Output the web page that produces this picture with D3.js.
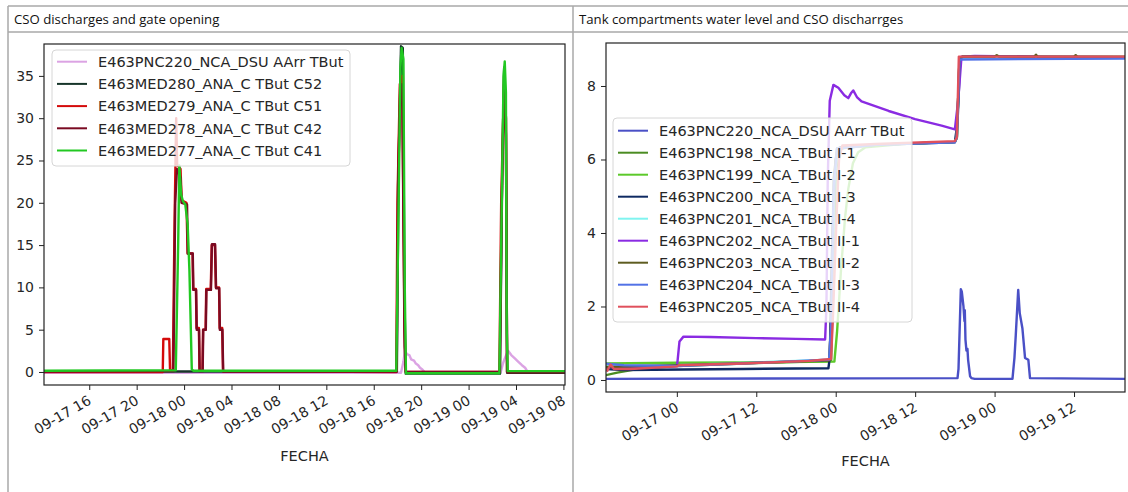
<!DOCTYPE html>
<html>
<head>
<meta charset="utf-8">
<script src="https://cdn.jsdelivr.net/npm/d3@7"></script>
<style>
  body { margin: 0; background: #fff; }
  svg { display: block; }
</style>
</head>
<body>
<svg id="fig" width="1128" height="492"></svg>
<script>
// ---- data (times are MM-DD HH:MM, year is arbitrary) ----
const YEAR = '2019-';

const panelTitles = [
  'CSO discharges and gate opening',
  'Tank compartments water level and CSO discharrges',
];

// left panel: CSO discharges and gate opening
const leftXDomain = ['09-17 12:11', '09-19 08:08'];
const leftYDomain = [-1.54, 38.77];
const leftYTicks = [0, 5, 10, 15, 20, 25, 30, 35];

const pnc220Left = [
  ['09-17 12:00', -0.1], ['09-18 18:18', -0.1], ['09-18 18:30', 1.2], ['09-18 18:38', 2.5],
  ['09-18 18:48', 2.1], ['09-18 19:00', 2.0], ['09-18 19:09', 1.5], ['09-18 19:24', 1.35],
  ['09-18 19:33', 1.0], ['09-18 19:45', 0.8], ['09-18 19:54', 0.5], ['09-18 20:06', 0.3],
  ['09-18 20:20', -0.1], ['09-19 02:42', -0.1], ['09-19 02:54', 1.0], ['09-19 03:03', 1.6],
  ['09-19 03:20', 2.5], ['09-19 03:36', 2.0], ['09-19 03:54', 1.6], ['09-19 04:12', 1.2],
  ['09-19 04:30', 0.8], ['09-19 04:46', 0.5], ['09-19 05:02', -0.1], ['09-19 08:30', -0.1],
];
const med280 = [
  ['09-17 12:00', 0.05], ['09-18 17:57', 0.05], ['09-18 18:06', 25], ['09-18 18:18', 38.5],
  ['09-18 18:27', 38.3], ['09-18 18:36', 8], ['09-18 18:42', -0.2], ['09-19 02:39', -0.2],
  ['09-19 02:51', 25], ['09-19 03:00', 36], ['09-19 03:09', 30], ['09-19 03:15', -0.1],
  ['09-19 08:30', -0.1],
];
const med279 = [
  ['09-17 12:00', 0], ['09-17 22:12', 0], ['09-17 22:15', 3.9], ['09-17 22:45', 3.9],
  ['09-17 22:49', 0.2], ['09-17 23:03', 0.2], ['09-17 23:12', 18], ['09-17 23:20', 30],
  ['09-17 23:25', 24.5], ['09-17 23:42', 24], ['09-17 23:48', 20.3], ['09-18 00:12', 20],
  ['09-18 00:18', 14], ['09-18 00:43', 14], ['09-18 00:46', 9.8], ['09-18 01:00', 9.8],
  ['09-18 01:03', 5.2], ['09-18 01:15', 5.2], ['09-18 01:18', 0.2], ['09-18 01:33', 0.2],
  ['09-18 01:36', 5], ['09-18 01:49', 5], ['09-18 01:52', 9.8], ['09-18 02:15', 9.8],
  ['09-18 02:20', 15], ['09-18 02:36', 15], ['09-18 02:41', 10], ['09-18 02:57', 10],
  ['09-18 03:00', 5.2], ['09-18 03:13', 5.2], ['09-18 03:17', 0.1], ['09-18 17:54', 0],
  ['09-18 18:00', 20], ['09-18 18:12', 34], ['09-18 18:24', 35], ['09-18 18:36', 5],
  ['09-18 18:42', 0], ['09-19 02:36', 0], ['09-19 02:45', 20], ['09-19 03:00', 35],
  ['09-19 03:09', 30], ['09-19 03:15', 0], ['09-19 08:30', 0],
];
const med278 = [
  ['09-17 12:00', 0.05], ['09-17 23:06', 0.1], ['09-17 23:15', 20], ['09-17 23:24', 24],
  ['09-17 23:42', 23], ['09-17 23:47', 20], ['09-18 00:15', 19.8], ['09-18 00:19', 14],
  ['09-18 00:44', 14], ['09-18 00:47', 9.7], ['09-18 01:01', 9.7], ['09-18 01:04', 5],
  ['09-18 01:16', 5], ['09-18 01:19', 0.1], ['09-18 01:34', 0.1], ['09-18 01:37', 5],
  ['09-18 01:50', 5], ['09-18 01:53', 9.7], ['09-18 02:16', 9.7], ['09-18 02:21', 15.1],
  ['09-18 02:37', 15.1], ['09-18 02:42', 9.9], ['09-18 02:58', 9.9], ['09-18 03:01', 5],
  ['09-18 03:14', 5], ['09-18 03:18', 0.05], ['09-18 17:56', 0.05], ['09-18 18:03', 22],
  ['09-18 18:15', 34], ['09-18 18:24', 34], ['09-18 18:36', 3], ['09-18 18:42', 0],
  ['09-19 02:38', 0], ['09-19 02:48', 20], ['09-19 03:00', 34], ['09-19 03:09', 28],
  ['09-19 03:15', 0], ['09-19 08:30', 0],
];
const med277 = [
  ['09-17 12:00', 0.15], ['09-17 23:18', 0.2], ['09-17 23:30', 15], ['09-17 23:36', 24.4],
  ['09-17 23:45', 21], ['09-17 23:54', 20.2], ['09-18 00:06', 19.8], ['09-18 00:18', 17.5],
  ['09-18 00:27', 12], ['09-18 00:39', 0.3], ['09-18 00:48', 0.15], ['09-18 17:54', 0.15],
  ['09-18 18:03', 15], ['09-18 18:15', 36], ['09-18 18:21', 38.3], ['09-18 18:30', 37],
  ['09-18 18:37', 10], ['09-18 18:43', -0.15], ['09-19 02:36', -0.15], ['09-19 02:45', 15],
  ['09-19 02:57', 35], ['09-19 03:03', 36.7], ['09-19 03:09', 33], ['09-19 03:13', 5],
  ['09-19 03:18', 0.1], ['09-19 08:30', 0.1],
];

const leftNames = [
  'E463PNC220_NCA_DSU AArr TBut', 'E463MED280_ANA_C TBut C52', 'E463MED279_ANA_C TBut C51',
  'E463MED278_ANA_C TBut C42', 'E463MED277_ANA_C TBut C41',
];
const leftColors = ['#dba3e3', '#17352a', '#d40a0a', '#7a0a22', '#22c822'];

// right panel: tank compartments water level
const rightXDomain = ['09-16 13:18', '09-19 19:42'];
const rightYDomain = [-0.327, 9.17];
const rightYTicks = [0, 2, 4, 6, 8];

const pnc220Right = [
  ['09-16 13:00', 0.03], ['09-18 18:24', 0.05], ['09-18 18:33', 0.3], ['09-18 18:54', 2.47],
  ['09-18 19:03', 2.4], ['09-18 19:18', 2.0], ['09-18 19:27', 1.6], ['09-18 19:30', 1.9],
  ['09-18 19:36', 1.1], ['09-18 19:45', 0.8], ['09-18 19:54', 0.85], ['09-18 20:00', 0.55],
  ['09-18 20:18', 0.1], ['09-18 20:30', 0.05], ['09-18 21:00', 0.03], ['09-19 02:42', 0.03],
  ['09-19 03:00', 0.6], ['09-19 03:12', 1.22], ['09-19 03:34', 2.45], ['09-19 03:48', 1.82],
  ['09-19 04:12', 1.41], ['09-19 04:36', 0.6], ['09-19 05:06', 0.55], ['09-19 05:21', 0.05],
  ['09-19 20:00', 0.03],
];
const pnc198 = [
  ['09-16 13:00', 0.12], ['09-16 15:00', 0.2], ['09-16 18:00', 0.3], ['09-17 00:00', 0.38],
  ['09-17 10:00', 0.45], ['09-17 20:00', 0.5], ['09-17 23:18', 0.52], ['09-17 23:36', 2.5],
  ['09-18 00:00', 5.6], ['09-18 00:30', 6.3], ['09-18 06:00', 6.4], ['09-18 18:00', 6.48],
  ['09-18 18:18', 6.6], ['09-18 18:42', 8.75], ['09-18 19:12', 8.8], ['09-19 20:00', 8.78],
];
const pnc199 = [
  ['09-16 13:00', 0.45], ['09-17 00:00', 0.47], ['09-17 10:00', 0.48], ['09-17 23:48', 0.5],
  ['09-18 00:12', 1.3], ['09-18 00:48', 3.0], ['09-18 01:24', 4.4], ['09-18 01:54', 5.2],
  ['09-18 02:36', 5.9], ['09-18 03:24', 6.2], ['09-18 04:30', 6.33], ['09-18 10:00', 6.42],
  ['09-18 18:00', 6.48], ['09-18 18:18', 6.6], ['09-18 18:42', 8.75], ['09-18 19:12', 8.8],
  ['09-19 20:00', 8.77],
];
const pnc200 = [
  ['09-16 13:00', 0.3], ['09-16 16:00', 0.27], ['09-17 10:00', 0.3], ['09-17 22:54', 0.32],
  ['09-17 23:06', 0.6], ['09-17 23:30', 4.0], ['09-18 00:00', 6.0], ['09-18 00:36', 6.33],
  ['09-18 06:00', 6.4], ['09-18 18:00', 6.47], ['09-18 18:24', 7.0], ['09-18 18:48', 8.75],
  ['09-19 20:00', 8.77],
];
const pnc201 = [
  ['09-16 13:00', 0.4], ['09-16 16:00', 0.35], ['09-17 00:00', 0.4], ['09-17 23:00', 0.55],
  ['09-17 23:18', 1.0], ['09-17 23:48', 5.5], ['09-18 00:18', 6.3], ['09-18 06:00', 6.4],
  ['09-18 18:00', 6.48], ['09-18 18:18', 6.6], ['09-18 18:42', 8.75], ['09-19 20:00', 8.78],
];
const pnc202 = [
  ['09-16 13:00', 0.35], ['09-16 19:00', 0.33], ['09-17 00:00', 0.38], ['09-17 00:06', 0.5],
  ['09-17 00:24', 1.05], ['09-17 01:00', 1.18], ['09-17 05:00', 1.17], ['09-17 12:00', 1.14],
  ['09-17 18:00', 1.12], ['09-17 22:24', 1.1], ['09-17 22:36', 2.0], ['09-17 22:48', 5.5],
  ['09-17 23:06', 7.6], ['09-17 23:39', 8.03], ['09-18 00:24', 7.95], ['09-18 01:18', 7.75],
  ['09-18 01:54', 7.67], ['09-18 02:18', 7.8], ['09-18 02:39', 7.88], ['09-18 03:12', 7.7],
  ['09-18 03:54', 7.58], ['09-18 08:00', 7.32], ['09-18 12:00', 7.1], ['09-18 16:00', 6.92],
  ['09-18 18:00', 6.82], ['09-18 18:30', 7.6], ['09-18 19:00', 8.8], ['09-18 21:00', 8.82],
  ['09-19 07:00', 8.8], ['09-19 20:00', 8.78],
];
const pnc203 = [
  ['09-16 13:00', 0.35], ['09-17 00:00', 0.4], ['09-17 23:00', 0.53], ['09-17 23:18', 1.5],
  ['09-17 23:42', 5.5], ['09-18 00:12', 6.3], ['09-18 06:00', 6.4], ['09-18 18:00', 6.48],
  ['09-18 18:18', 6.6], ['09-18 18:42', 8.75], ['09-18 19:12', 8.8], ['09-19 00:00', 8.8],
  ['09-19 00:20', 8.84], ['09-19 00:40', 8.8], ['09-19 06:00', 8.8], ['09-19 06:15', 8.85],
  ['09-19 06:30', 8.8], ['09-19 12:00', 8.8], ['09-19 12:15', 8.84], ['09-19 12:30', 8.8],
  ['09-19 20:00', 8.8],
];
const pnc204 = [
  ['09-16 13:00', 0.45], ['09-16 16:00', 0.4], ['09-17 00:00', 0.38], ['09-17 10:00', 0.45],
  ['09-17 23:00', 0.55], ['09-17 23:18', 1.5], ['09-17 23:42', 5.3], ['09-18 00:12', 6.3],
  ['09-18 06:00', 6.4], ['09-18 18:00', 6.47], ['09-18 18:18', 6.6], ['09-18 18:42', 8.72],
  ['09-19 20:00', 8.75],
];
const pnc205 = [
  ['09-16 13:00', 0.35], ['09-16 13:30', 0.25], ['09-16 14:00', 0.42], ['09-16 14:30', 0.3],
  ['09-16 17:00', 0.3], ['09-17 00:00', 0.37], ['09-17 00:18', 0.4], ['09-17 10:00', 0.45],
  ['09-17 20:00', 0.52], ['09-17 23:18', 0.57], ['09-17 23:36', 1.8], ['09-17 23:54', 3.3],
  ['09-18 00:06', 4.3], ['09-18 00:30', 6.0], ['09-18 01:00', 6.38], ['09-18 06:00', 6.42],
  ['09-18 18:00', 6.5], ['09-18 18:18', 6.6], ['09-18 18:36', 8.8], ['09-19 20:00', 8.8],
];

const rightNames = [
  'E463PNC220_NCA_DSU AArr TBut', 'E463PNC198_NCA_TBut I-1', 'E463PNC199_NCA_TBut I-2',
  'E463PNC200_NCA_TBut I-3', 'E463PNC201_NCA_TBut I-4', 'E463PNC202_NCA_TBut II-1',
  'E463PNC203_NCA_TBut II-2', 'E463PNC204_NCA_TBut II-3', 'E463PNC205_NCA_TBut II-4',
];
const rightColors = [
  '#4a50c6', '#4b8c22', '#5cc92a', '#0f2a62', '#80f4f0', '#8a2be2', '#5e5c20', '#5272e6', '#e0505c',
];

const xLabel = 'FECHA';

// ---- drawing ----
const parseTime = d3.utcParse('%Y-%m-%d %H:%M');
const toDate = (s) => parseTime(YEAR + s);
const toPoints = (rows) => rows.map(([t, v]) => ({ t: toDate(t), v }));

const MPL_FONT = 'DejaVu Sans, sans-serif';
const GRID_COLOR = '#a8a8a8';
const LINE_WIDTH = 2.4;

const svg = d3.select('#fig');
svg.append('rect').attr('width', 1128).attr('height', 492).attr('fill', '#fff');

// the surrounding table (screenshot of a document)
const table = svg.append('g').attr('class', 'table');
[[8, 6, 1128, 6], [8, 32, 1128, 32], [8, 6, 8, 492], [573, 6, 573, 492]].forEach(([x1, y1, x2, y2]) => {
  table.append('line')
    .attr('x1', x1).attr('y1', y1).attr('x2', x2).attr('y2', y2)
    .attr('stroke', GRID_COLOR)
    .attr('stroke-width', 1.5);
});
[14, 579].forEach((x, i) => {
  table.append('text')
    .attr('x', x)
    .attr('y', 24)
    .attr('font-family', 'Open Sans, sans-serif')
    .attr('font-size', '13.2px')
    .attr('fill', '#111')
    .text(panelTitles[i]);
});

function drawPanel(cfg) {
  const { box } = cfg;
  const g = svg.append('g').attr('class', cfg.id);

  const x = d3.scaleUtc().domain(cfg.xDomain.map(toDate)).range([box.x0, box.x1]);
  const y = d3.scaleLinear().domain(cfg.yDomain).range([box.y1, box.y0]);

  const clipId = `clip-${cfg.id}`;
  g.append('clipPath').attr('id', clipId)
    .append('rect')
    .attr('x', box.x0).attr('y', box.y0)
    .attr('width', box.x1 - box.x0).attr('height', box.y1 - box.y0);

  const line = d3.line()
    .x((d) => x(d.t))
    .y((d) => y(d.v));

  const lines = g.append('g').attr('clip-path', `url(#${clipId})`);
  cfg.series.forEach((s, i) => {
    lines.append('path')
      .attr('d', line(toPoints(s)))
      .attr('fill', 'none')
      .attr('stroke', cfg.colors[i])
      .attr('stroke-width', LINE_WIDTH)
      .attr('stroke-linejoin', 'round');
  });

  // axes
  const xAxis = d3.axisBottom(x)
    .ticks(cfg.xTicks)
    .tickFormat(d3.utcFormat('%m-%d %H'))
    .tickSize(5)
    .tickSizeOuter(0);
  const gx = g.append('g')
    .attr('transform', `translate(0,${box.y1})`)
    .call(xAxis);
  gx.select('.domain').remove();
  gx.selectAll('.tick line').attr('stroke', '#222');
  gx.selectAll('.tick text')
    .attr('font-family', MPL_FONT)
    .attr('font-size', '14px')
    .attr('fill', '#262626')
    .attr('text-anchor', 'end')
    .attr('x', 0)
    .attr('y', 0)
    .attr('dy', '0.35em')
    .attr('transform', 'translate(0,14) rotate(-30)');

  const yAxis = d3.axisLeft(y)
    .tickValues(cfg.yTicks)
    .tickFormat(d3.format('d'))
    .tickSize(5)
    .tickPadding(5)
    .tickSizeOuter(0);
  const gy = g.append('g')
    .attr('transform', `translate(${box.x0},0)`)
    .call(yAxis);
  gy.select('.domain').remove();
  gy.selectAll('.tick line').attr('stroke', '#222');
  gy.selectAll('.tick text')
    .attr('font-family', MPL_FONT)
    .attr('font-size', '14px')
    .attr('fill', '#262626');

  // frame
  g.append('rect')
    .attr('x', box.x0).attr('y', box.y0)
    .attr('width', box.x1 - box.x0).attr('height', box.y1 - box.y0)
    .attr('fill', 'none')
    .attr('stroke', '#222')
    .attr('stroke-width', 1.2);

  g.append('text')
    .attr('x', (box.x0 + box.x1) / 2)
    .attr('y', cfg.xLabelY)
    .attr('text-anchor', 'middle')
    .attr('font-family', MPL_FONT)
    .attr('font-size', '14.5px')
    .attr('fill', '#262626')
    .text(xLabel);

  // legend
  const lg = cfg.legend;
  const leg = g.append('g').attr('class', 'legend');
  leg.append('rect')
    .attr('x', lg.x).attr('y', lg.y)
    .attr('width', lg.w).attr('height', lg.h)
    .attr('rx', 4)
    .attr('fill', '#fff')
    .attr('fill-opacity', 0.8)
    .attr('stroke', '#d6d6d6');
  cfg.names.forEach((name, i) => {
    const cy = lg.y + lg.first + i * lg.step;
    leg.append('line')
      .attr('x1', lg.x + 5).attr('x2', lg.x + 35)
      .attr('y1', cy).attr('y2', cy)
      .attr('stroke', cfg.colors[i])
      .attr('stroke-width', 2);
    leg.append('text')
      .attr('x', lg.x + 46)
      .attr('y', cy)
      .attr('dy', '0.36em')
      .attr('font-family', MPL_FONT)
      .attr('font-size', '14.5px')
      .attr('fill', '#262626')
      .text(name);
  });
}

drawPanel({
  id: 'left',
  box: { x0: 44, x1: 565, y0: 44, y1: 385 },
  xDomain: leftXDomain,
  yDomain: leftYDomain,
  xTicks: d3.utcHour.every(4),
  yTicks: leftYTicks,
  series: [pnc220Left, med280, med279, med278, med277],
  names: leftNames,
  colors: leftColors,
  xLabelY: 461,
  legend: { x: 52, y: 50, w: 298, h: 116, first: 11.7, step: 22.2 },
});

drawPanel({
  id: 'right',
  box: { x0: 606, x1: 1125, y0: 43, y1: 392 },
  xDomain: rightXDomain,
  yDomain: rightYDomain,
  xTicks: d3.utcHour.every(12),
  yTicks: rightYTicks,
  series: [pnc220Right, pnc198, pnc199, pnc200, pnc201, pnc202, pnc203, pnc204, pnc205],
  names: rightNames,
  colors: rightColors,
  xLabelY: 466,
  legend: { x: 613, y: 118, w: 299, h: 204, first: 12.7, step: 22 },
});
</script>
</body>
</html>
